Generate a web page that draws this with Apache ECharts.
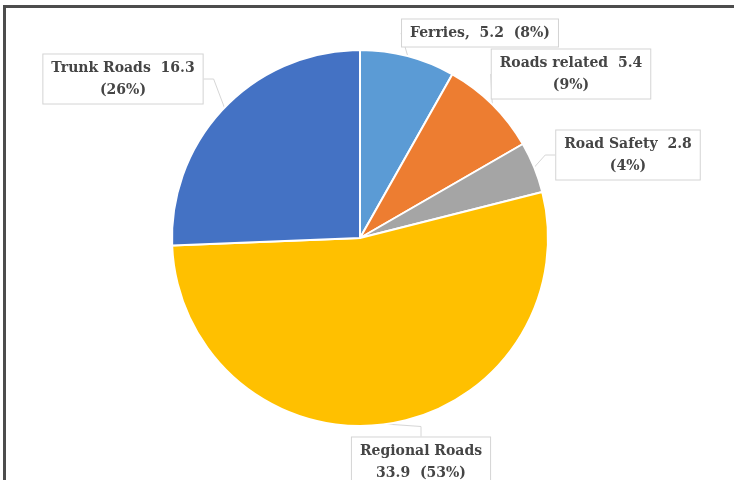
<!DOCTYPE html>
<html>
<head>
<meta charset="utf-8">
<script src="https://cdn.jsdelivr.net/npm/echarts@6/dist/echarts.min.js"></script>
<style>
  html, body { margin: 0; padding: 0; background: #ffffff; }
  #chart { width: 734px; height: 480px; }
</style>
</head>
<body>
<div id="chart"></div>
<script>
// Road sector budget split (values and shares)
const categories = ['Ferries', 'Roads related', 'Road Safety', 'Regional Roads', 'Trunk Roads'];
const values = [5.2, 5.4, 2.8, 33.9, 16.3];
const colors = ['#5B9BD5', '#ED7D31', '#A5A5A5', '#FFC000', '#4472C4'];

// How each label is broken into lines
const labelTemplates = [
  '{b},  {c}  ({d}%)',
  '{b}  {c}\n({d}%)',
  '{b}  {c}\n({d}%)',
  '{b}\n{c}  ({d}%)',
  '{b}  {c}\n({d}%)'
];

// Label box centres, in pixels
const labelCenters = [
  [480, 33],
  [571, 74],
  [628, 155],
  [421, 462],
  [123, 79]
];

const chart = echarts.init(document.getElementById('chart'), null, { renderer: 'canvas' });

chart.setOption({
  backgroundColor: '#ffffff',
  animation: false,
  graphic: [{
    type: 'rect',
    shape: { x: 4.5, y: 6.5, width: 760, height: 500 },
    style: { fill: 'none', stroke: '#4d4d4d', lineWidth: 3 },
    silent: true,
    z: 100
  }],
  series: [{
    type: 'pie',
    center: [360, 238],
    radius: 188,
    startAngle: 90,
    clockwise: true,
    percentPrecision: 0,
    avoidLabelOverlap: false,
    itemStyle: { borderColor: '#ffffff', borderWidth: 2 },
    label: {
      show: true,
      fontFamily: 'DejaVu Serif',
      fontWeight: 'bold',
      fontSize: 14,
      lineHeight: 22,
      color: '#454545',
      backgroundColor: '#ffffff',
      borderColor: '#d4d4d4',
      borderWidth: 1,
      padding: [3, 8, 2, 8],
      align: 'center'
    },
    labelLine: {
      show: true,
      length: 10,
      length2: 10,
      lineStyle: { color: '#d6d6d6', width: 1 }
    },
    labelLayout: function (params) {
      const p = labelCenters[params.dataIndex];
      return { x: p[0], y: p[1], align: 'center', verticalAlign: 'middle' };
    },
    data: categories.map(function (name, i) {
      return {
        name: name,
        value: values[i],
        itemStyle: { color: colors[i] },
        label: { formatter: labelTemplates[i] }
      };
    })
  }]
});
</script>
</body>
</html>
